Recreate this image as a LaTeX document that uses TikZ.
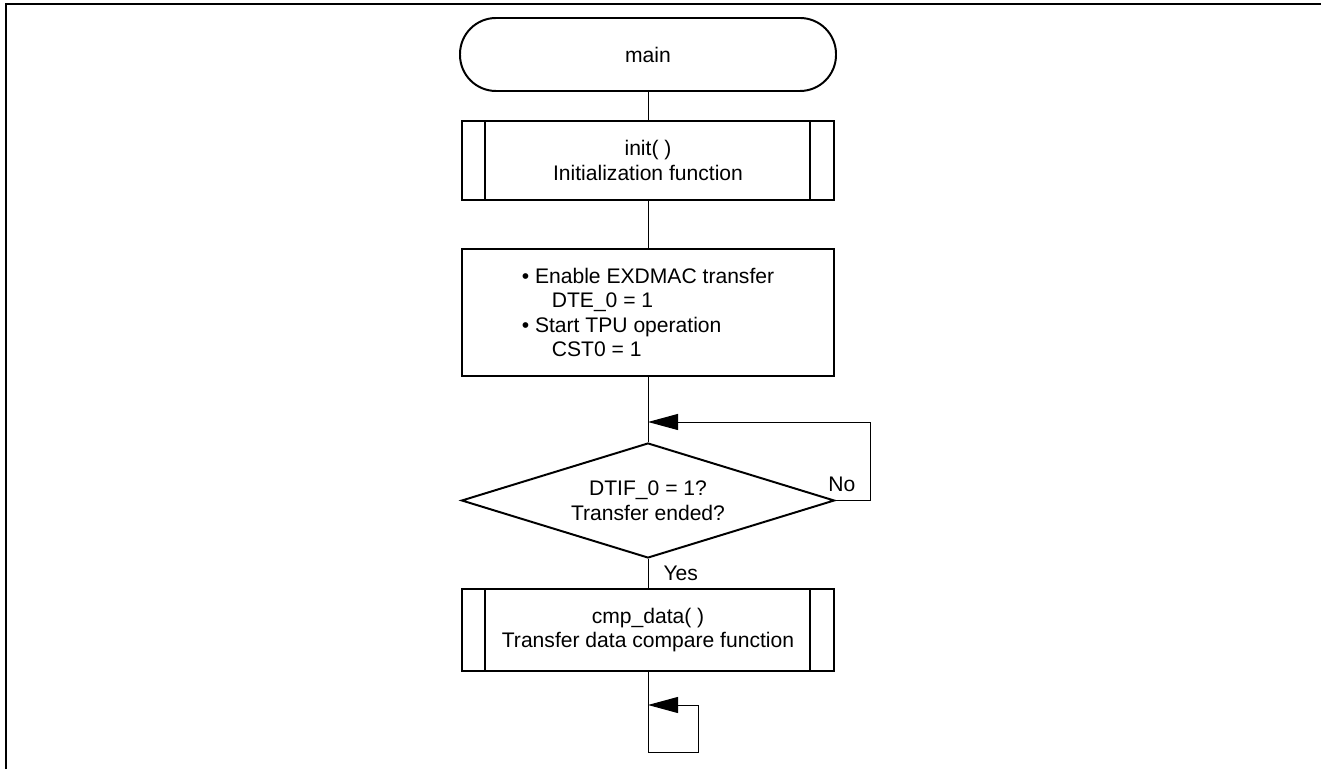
\documentclass[tikz,border=0pt]{standalone}
\usepackage{fontspec}
\setmainfont{Liberation Sans}
\usetikzlibrary{shapes.geometric,arrows.meta}

\tikzstyle{terminal}=[draw, line width=1.4pt, rounded corners=0.9cm, minimum width=9.4cm, minimum height=1.825cm]
\tikzstyle{process}=[draw, line width=1.4pt, minimum width=9.3cm, align=center]
\tikzstyle{subproc}=[process, path picture={
    \draw[line width=1.4pt] ([xshift=0.575cm]path picture bounding box.north west) -- ([xshift=0.575cm]path picture bounding box.south west);
    \draw[line width=1.4pt] ([xshift=-0.6cm]path picture bounding box.north east) -- ([xshift=-0.6cm]path picture bounding box.south east);}]
\tikzstyle{decision}=[diamond, draw, line width=1.4pt, aspect=3.24, minimum width=9.325cm, minimum height=2.875cm, inner sep=0pt, align=center]

\begin{document}
\begin{tikzpicture}[font=\fontsize{15}{17.5}\selectfont, >={Triangle[length=7.5mm, width=4mm]}]
\useasboundingbox (0,0) rectangle (33.025,19.225);
\draw[line width=1.4pt] (0.15,0) -- (0.15,19.125) -- (33.025,19.125);

\node[terminal](main) at (16.2, 17.8625) {main};
\node[subproc, minimum height=1.975cm](init) at (16.2, 15.2125) {init( )\\Initialization function};
\node[process, minimum height=3.175cm, align=left](proc) at (16.2, 11.4125) {\textbullet\ Enable EXDMAC transfer\\
\hspace*{0.75cm}DTE\_0 = 1\\
\textbullet\ Start TPU operation\\
\hspace*{0.75cm}CST0 = 1};
\node[decision](dec) at (16.2, 6.7125) {DTIF\_0 = 1?\\Transfer ended?};
\node[subproc, minimum height=2.05cm](cmp) at (16.2, 3.475) {cmp\_data( )\\Transfer data compare function};

\coordinate (loopin) at (16.2, 8.675);
\coordinate (nojoin) at (21.75, 8.675);
\coordinate (stopA) at (16.2, 0.425);
\coordinate (stopB) at (17.45, 1.6);
\coordinate (stopC) at (16.2, 1.6);

\begin{scope}[every path/.style={line width=0.7pt}]
       \draw (main) -- (init);
       \draw (init) -- (proc);
       \draw (proc) -- (dec);
       \draw[->] (dec.east) node [anchor=south, xshift=0.16cm, yshift=0.2cm, inner sep=0pt] {No} -| (nojoin) -- (loopin);
       \draw (dec) -- node [anchor=west, xshift=0.375cm, inner sep=0pt] {Yes} (cmp);
       \draw (cmp) -- (stopA);
       \draw[->] (stopA) -| (stopB) -- (stopC);
\end{scope}
\end{tikzpicture}
\end{document}
